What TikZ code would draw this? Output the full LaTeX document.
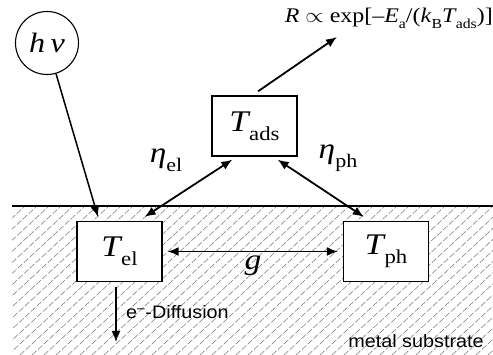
\documentclass[tikz,border=0pt]{standalone}
\usepackage{fontspec}
\setmainfont{Liberation Serif}
\newfontfamily\arialf{Liberation Sans}
\usetikzlibrary{arrows.meta}
\newcommand\lowsub[1]{\raisebox{-0.3em}{\scalebox{0.66}{#1}}}
\newcommand\Tvar[1]{\textit{T}\kern-0.04em\lowsub{#1}}
\newcommand\wide[1]{\scalebox{1.15}[1]{#1}}
\newcommand\swide[1]{\scalebox{1.1}[1]{#1}}
\tikzset{
  box/.style={draw, line width=1.3pt, fill=white, minimum width=85pt, minimum height=60pt, inner sep=0pt, font=\fontsize{30}{34}\selectfont},
  arr/.style={line width=1.8pt, -{Latex[length=11pt,width=9pt]}},
  darr/.style={line width=1.8pt, {Latex[length=11pt,width=9pt]}-{Latex[length=11pt,width=9pt]}},
  hatchline/.style={black!55, line width=0.5pt, dash pattern=on 6pt off 2pt},
  lab/.style={font=\fontsize{29}{32}\selectfont, inner sep=0pt},
  sans/.style={font=\arialf\fontsize{18}{21}\selectfont, inner sep=0pt},
}
\begin{document}
\begin{tikzpicture}[x=1pt,y=-1pt]
\useasboundingbox (0,0) rectangle (493,355);
% hatched substrate
\begin{scope}
\clip (12,207) rectangle (493,355);
\foreach \i in {-160,-148,...,500} {
  \draw[hatchline] (\i,355) -- ({\i+160},207);
}
\end{scope}
\draw[line width=1.3pt] (12,206) -- (493,206);
% nodes
\node[draw, circle, line width=1.1pt, minimum size=63pt, inner sep=0pt, font=\fontsize{28}{30}\selectfont] (hv) at (47,43) {\wide{\textit{h}\,\textit{ν}}};
\node[box] (Tads) at (254.5,126) {\wide{\Tvar{ads}}};
\node[box] (Tel) at (119.5,251.5) {\wide{\Tvar{el}}};
\node[box] (Tph) at (386,251.5) {\wide{\Tvar{ph}}};
\node[font=\fontsize{20.8}{25}\selectfont, inner sep=0pt, anchor=east] (form) at (493,18) {\wide{\textit{R} $\propto$ exp[–\textit{E}\lowsub{a}/(\textit{k}\lowsub{B}\Tvar{ads})]}};
\node[lab] (etael) at (166,160) {\wide{\textit{η}\lowsub{el}}};
\node[lab] (etaph) at (338,158) {\wide{\textit{η}\lowsub{ph}}};
\node[lab] (g) at (253,266) {\wide{\textit{g}}};
\node[sans, anchor=west] (diff) at (126,312) {\swide{e\textsuperscript{–}-Diffusion}};
\node[sans] (metal) at (416,341) {\swide{metal substrate}};
\coordinate (Rend) at (337,37);
\coordinate (dend) at (116,342);
% connectors
\draw[arr, line width=1.5pt] (hv) -- ([xshift=-21.5pt,yshift=4pt]Tel.north);
\draw[darr] ([xshift=-18pt,yshift=4pt]Tel.north east) -- ([xshift=21pt,yshift=-3pt]Tads.south west);
\draw[darr] ([xshift=-20pt,yshift=-3pt]Tads.south east) -- ([xshift=21pt,yshift=4pt]Tph.north west);
\draw[darr, shorten <=5pt, shorten >=5pt] (Tel.east) -- (Tph.west);
\draw[arr] ([xshift=3.5pt,yshift=4pt]Tads.north) -- (Rend);
\draw[arr, line width=1.5pt] ([xshift=-3.5pt,yshift=-5pt]Tel.south) -- (dend);
\end{tikzpicture}
\end{document}
